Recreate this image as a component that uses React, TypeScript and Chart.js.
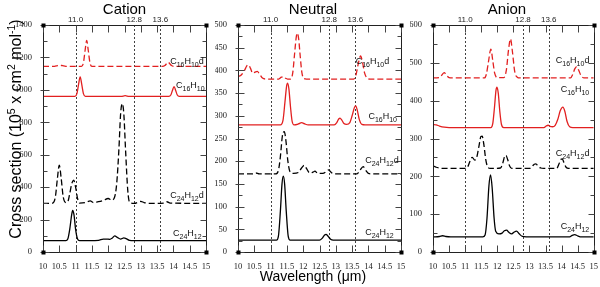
import React, { useEffect, useRef } from 'react';
import { Chart, registerables } from 'chart.js';

Chart.register(...registerables);

type Pt = [number, number];

// ---------- data ----------
const markerWavelengths = [11.0, 12.8, 13.6];
const speciesNames = ['C16H10d', 'C16H10', 'C24H12d', 'C24H12'];

// Cation
const cationC16H10d: Pt[] = [
  [10, 1145], [10.35, 1145], [10.45, 1150], [10.52, 1152], [10.6, 1149], [10.7, 1145],
  [11.18, 1145], [11.24, 1167], [11.29, 1241], [11.34, 1305], [11.39, 1241], [11.44, 1167], [11.5, 1145],
  [13.66, 1145], [13.74, 1150], [13.79, 1161], [13.84, 1170], [13.89, 1161], [13.94, 1150], [14.02, 1145], [15, 1145],
];
const cationC16H10: Pt[] = [
  [10, 960], [10.98, 960], [11.04, 977], [11.09, 1032], [11.14, 1080], [11.19, 1032], [11.24, 977], [11.3, 960],
  [12.4, 960], [12.52, 964], [12.64, 960],
  [13.86, 960], [13.92, 968], [13.97, 996], [14.02, 1020], [14.07, 996], [14.12, 968], [14.18, 960], [15, 960],
];
const cationC24H12d: Pt[] = [
  [10, 300], [10.3, 302], [10.38, 340], [10.44, 450], [10.5, 535], [10.56, 450], [10.62, 340], [10.7, 305],
  [10.76, 310], [10.82, 360], [10.88, 420], [10.94, 443], [11.0, 400], [11.06, 330], [11.12, 302],
  [11.3, 305], [11.45, 315], [11.55, 305], [11.7, 310], [11.85, 318], [12.0, 330], [12.1, 320], [12.18, 330],
  [12.26, 420], [12.33, 640], [12.38, 850], [12.43, 915], [12.48, 850], [12.53, 640], [12.6, 380], [12.66, 305],
  [12.8, 300], [13.0, 312], [13.1, 305], [13.3, 300], [13.7, 302], [13.8, 310], [13.9, 302], [15, 300],
];
const cationC24H12: Pt[] = [
  [10, 70], [10.7, 70], [10.76, 80], [10.82, 140], [10.88, 230], [10.91, 256], [10.95, 230], [11.0, 140],
  [11.06, 80], [11.12, 70], [11.7, 72], [11.85, 80], [11.95, 80], [12.05, 78], [12.12, 85], [12.2, 100],
  [12.28, 90], [12.38, 80], [12.48, 87], [12.55, 82], [12.65, 72], [12.8, 70], [15, 70],
];
const cationLabelX = [13.9, 14.08, 13.9, 13.99];
const cationLabelY = [1160, 1012, 333, 99];

// Neutral
const neutralC16H10d: Pt[] = [
  [10, 386], [10.1, 390], [10.2, 400], [10.27, 410], [10.32, 412], [10.38, 405], [10.45, 394], [10.52, 396],
  [10.59, 398], [10.66, 392], [10.75, 383], [10.85, 381], [11.25, 381], [11.33, 385], [11.39, 386],
  [11.45, 383], [11.52, 381], [11.62, 381], [11.68, 395], [11.74, 440], [11.79, 475], [11.82, 482],
  [11.86, 470], [11.91, 430], [11.96, 395], [12.02, 382], [12.1, 381], [13.55, 381], [13.62, 390],
  [13.69, 415], [13.76, 432], [13.82, 418], [13.88, 395], [13.96, 383], [14.05, 381], [15, 381],
];
const neutralC16H10: Pt[] = [
  [10, 280], [11.3, 280], [11.38, 290], [11.44, 330], [11.49, 365], [11.52, 372], [11.56, 360], [11.61, 320],
  [11.66, 288], [11.72, 280], [11.85, 282], [11.95, 285], [12.05, 282], [12.15, 280], [12.95, 280],
  [13.03, 285], [13.09, 293], [13.13, 295], [13.18, 291], [13.25, 283], [13.33, 281], [13.43, 285],
  [13.5, 300], [13.57, 318], [13.61, 322], [13.66, 312], [13.72, 292], [13.8, 281], [13.9, 280], [15, 280],
];
const neutralC24H12d: Pt[] = [
  [10, 172], [10.45, 172], [10.55, 174], [10.65, 172], [11.15, 172], [11.24, 180], [11.3, 210], [11.36, 255],
  [11.42, 265], [11.47, 245], [11.53, 200], [11.6, 176], [11.7, 173], [11.85, 175], [11.95, 185],
  [12.03, 191], [12.1, 184], [12.2, 174], [12.3, 176], [12.36, 178], [12.45, 173], [12.6, 173],
  [12.72, 178], [12.78, 181], [12.85, 176], [12.95, 172], [13.65, 172], [13.74, 180], [13.84, 188],
  [13.92, 180], [14.0, 173], [14.1, 172], [15, 172],
];
const neutralC24H12: Pt[] = [
  [10, 26], [11.18, 26], [11.24, 35], [11.3, 90], [11.35, 150], [11.39, 167], [11.43, 150], [11.48, 90],
  [11.54, 35], [11.6, 26], [12.5, 26], [12.58, 30], [12.65, 37], [12.7, 39], [12.76, 35], [12.84, 28],
  [12.92, 26], [15, 26],
];
const neutralLabelX = [13.61, 14.0, 13.9, 13.9];
const neutralLabelY = [414, 293, 195, 38];

// Anion
const anionC16H10d: Pt[] = [
  [10, 460], [10.2, 461], [10.27, 467], [10.35, 474], [10.42, 467], [10.5, 461], [10.6, 460], [11.6, 460],
  [11.66, 470], [11.72, 500], [11.8, 536], [11.86, 505], [11.92, 472], [12.0, 461], [12.2, 461],
  [12.28, 480], [12.35, 535], [12.41, 563], [12.47, 530], [12.54, 478], [12.62, 462], [12.7, 460],
  [14.28, 460], [14.35, 470], [14.41, 484], [14.47, 490], [14.53, 481], [14.6, 467], [14.7, 460], [15, 460],
];
const anionC16H10: Pt[] = [
  [10, 337], [10.1, 336], [10.2, 333], [10.35, 330], [10.5, 329], [11.8, 329], [11.86, 340], [11.91, 380],
  [11.96, 428], [11.99, 436], [12.03, 420], [12.08, 370], [12.13, 337], [12.2, 329], [13.45, 329],
  [13.52, 333], [13.58, 335], [13.64, 332], [13.72, 331], [13.8, 335], [13.88, 350], [13.96, 374],
  [14.04, 383], [14.1, 372], [14.17, 345], [14.25, 331], [14.35, 329], [15, 329],
];
const anionC24H12d: Pt[] = [
  [10, 228], [10.1, 224], [10.2, 222], [10.3, 221], [11.0, 221], [11.08, 225], [11.15, 240], [11.22, 250],
  [11.3, 243], [11.36, 250], [11.43, 280], [11.49, 305], [11.53, 306], [11.58, 285], [11.64, 245],
  [11.7, 225], [11.78, 221], [12.1, 222], [12.17, 235], [12.23, 253], [12.27, 255], [12.32, 245],
  [12.38, 228], [12.45, 221], [13.0, 221], [13.08, 226], [13.15, 232], [13.2, 233], [13.27, 227],
  [13.35, 222], [13.45, 221], [13.85, 221], [13.92, 233], [13.98, 245], [14.02, 246], [14.07, 237],
  [14.14, 224], [14.22, 221], [15, 221],
];
const anionC24H12: Pt[] = [
  [10, 40], [10.2, 41], [10.3, 43], [10.4, 41], [10.55, 40], [11.55, 40], [11.62, 45], [11.68, 90],
  [11.74, 175], [11.79, 204], [11.84, 170], [11.9, 90], [11.95, 55], [12.05, 48], [12.15, 50], [12.22, 56],
  [12.29, 58], [12.36, 52], [12.45, 48], [12.53, 53], [12.6, 55], [12.68, 48], [12.78, 41], [12.9, 40],
  [14.25, 40], [14.33, 44], [14.41, 46], [14.49, 43], [14.58, 40], [15, 40],
];
const anionLabelX = [13.82, 13.97, 13.82, 13.97];
const anionLabelY = [499, 424, 255, 62];

// ---------- styles / layout ----------
const RED = 'rgb(226,32,32)';
const BLACK = '#000000';
const DASH = [6, 3];
const SANS = '"Liberation Sans", Arial, Helvetica, sans-serif';
const SERIF = '"Liberation Serif", "Times New Roman", serif';
const H = 287;

type PanelCfg = {
  title: string;
  titleX: number;
  left: number;
  width: number;
  yAxisW: number;
  padRight: number;
  yMax: number;
  yStep: number;
  series: Pt[][];
  labelX: number[];
  labelY: number[];
  yTitle?: boolean;
  xTitle?: boolean;
};

const panels: PanelCfg[] = [
  {
    title: 'Cation', titleX: 124.5, left: 0, width: 215, yAxisW: 43, padRight: 9,
    yMax: 1400, yStep: 200,
    series: [cationC16H10d, cationC16H10, cationC24H12d, cationC24H12],
    labelX: cationLabelX, labelY: cationLabelY, yTitle: true,
  },
  {
    title: 'Neutral', titleX: 98, left: 215, width: 195, yAxisW: 23, padRight: 9,
    yMax: 500, yStep: 50,
    series: [neutralC16H10d, neutralC16H10, neutralC24H12d, neutralC24H12],
    labelX: neutralLabelX, labelY: neutralLabelY, xTitle: true,
  },
  {
    title: 'Anion', titleX: 97, left: 410, width: 190, yAxisW: 23, padRight: 6,
    yMax: 600, yStep: 100,
    series: [anionC16H10d, anionC16H10, anionC24H12d, anionC24H12],
    labelX: anionLabelX, labelY: anionLabelY,
  },
];

const seriesColors = [RED, RED, BLACK, BLACK];
const seriesDashed = [true, false, true, false];

type Part = { t: string; mode: 'n' | 'sup' | 'sub' };

function drawRich(
  ctx: CanvasRenderingContext2D, parts: Part[], x: number, y: number,
  size: number, small: number, shift: number, align: 'left' | 'center',
) {
  const fontOf = (p: Part) => `${p.mode === 'n' ? size : small}px ${SANS}`;
  let total = 0;
  const widths = parts.map((p) => {
    ctx.font = fontOf(p);
    const w = ctx.measureText(p.t).width;
    total += w;
    return w;
  });
  let cx = align === 'center' ? x - total / 2 : x;
  ctx.textAlign = 'left';
  ctx.textBaseline = 'alphabetic';
  parts.forEach((p, i) => {
    ctx.font = fontOf(p);
    const dy = p.mode === 'sup' ? -shift : p.mode === 'sub' ? shift : 0;
    ctx.fillText(p.t, cx, y + dy);
    cx += widths[i];
  });
}

function formulaParts(name: string): Part[] {
  return name
    .split(/(\d+)/)
    .filter((s) => s.length > 0)
    .map((s) => ({ t: s, mode: /^\d+$/.test(s) ? 'sub' : 'n' }));
}

function makeDecor(panel: PanelCfg) {
  return {
    id: 'decor',
    beforeDatasetsDraw(chart: any) {
      const ctx: CanvasRenderingContext2D = chart.ctx;
      const { top, bottom } = chart.chartArea;
      const xs = chart.scales.x;
      ctx.save();
      ctx.strokeStyle = '#111';
      ctx.lineWidth = 0.8;
      ctx.setLineDash([2, 2]);
      markerWavelengths.forEach((v) => {
        const px = Math.round(xs.getPixelForValue(v)) + 0.5;
        ctx.beginPath();
        ctx.moveTo(px, top);
        ctx.lineTo(px, bottom);
        ctx.stroke();
      });
      ctx.restore();
    },
    afterDraw(chart: any) {
      const ctx: CanvasRenderingContext2D = chart.ctx;
      const { left, right, top, bottom } = chart.chartArea;
      const xs = chart.scales.x;
      const ys = chart.scales.y;
      ctx.save();
      // frame
      ctx.strokeStyle = '#222';
      ctx.lineWidth = 1;
      ctx.setLineDash([]);
      const L = Math.round(left) + 0.5, R = Math.round(right) + 0.5;
      const T = Math.round(top) + 0.5, B = Math.round(bottom) + 0.5;
      ctx.strokeRect(L, T, R - L, B - T);
      // ticks
      ctx.strokeStyle = '#444';
      const seg = (x1: number, y1: number, x2: number, y2: number) => {
        ctx.beginPath(); ctx.moveTo(x1, y1); ctx.lineTo(x2, y2); ctx.stroke();
      };
      xs.ticks.forEach((t: any) => {
        const px = Math.round(xs.getPixelForValue(t.value)) + 0.5;
        seg(px, T, px, T + 7);
        seg(px, B, px, B - 7);
      });
      const yt = ys.ticks.map((t: any) => t.value);
      yt.forEach((v: number, i: number) => {
        const py = Math.round(ys.getPixelForValue(v)) + 0.5;
        seg(L, py, L + 6, py);
        seg(R, py, R - 6, py);
        seg(L - 3, py, L, py);
        if (i < yt.length - 1) {
          const pm = Math.round(ys.getPixelForValue((v + yt[i + 1]) / 2)) + 0.5;
          seg(L, pm, L + 4, pm);
          seg(R, pm, R - 4, pm);
        }
      });
      // corner squares
      ctx.fillStyle = '#000';
      [[L, T], [R, T], [L, B], [R, B]].forEach(([cx, cy]) => ctx.fillRect(cx - 2, cy - 2, 4, 4));
      // top marker labels
      ctx.fillStyle = '#222';
      ctx.font = `8px ${SANS}`;
      ctx.textAlign = 'center';
      ctx.textBaseline = 'alphabetic';
      markerWavelengths.forEach((v) => {
        ctx.fillText(v.toFixed(1), xs.getPixelForValue(v), 22);
      });
      // species labels
      ctx.fillStyle = '#111';
      speciesNames.forEach((name, i) => {
        const px = xs.getPixelForValue(panel.labelX[i]);
        const py = ys.getPixelForValue(panel.labelY[i]);
        drawRich(ctx, formulaParts(name), px, py, 9, 7, 3, 'left');
      });
      // panel title
      ctx.fillStyle = '#000';
      ctx.font = `15px ${SANS}`;
      ctx.textAlign = 'center';
      ctx.textBaseline = 'alphabetic';
      ctx.fillText(panel.title, panel.titleX, 13.5);
      if (panel.xTitle) {
        ctx.font = `14px ${SANS}`;
        ctx.fillText('Wavelength (\u03bcm)', panel.titleX, 281);
      }
      if (panel.yTitle) {
        ctx.translate(21, 129);
        ctx.rotate(-Math.PI / 2);
        drawRich(
          ctx,
          [
            { t: 'Cross section (10', mode: 'n' },
            { t: '5', mode: 'sup' },
            { t: ' x cm', mode: 'n' },
            { t: '2', mode: 'sup' },
            { t: ' mol', mode: 'n' },
            { t: '-1', mode: 'sup' },
            { t: ')', mode: 'n' },
          ],
          0, 0, 16, 10.5, 6, 'center',
        );
      }
      ctx.restore();
    },
  };
}

function Panel({ panel }: { panel: PanelCfg }) {
  const ref = useRef<HTMLCanvasElement | null>(null);
  useEffect(() => {
    const canvas = ref.current;
    if (!canvas) return;
    const tickFont = { family: SERIF, size: 8.5 };
    const chart = new Chart(canvas, {
      type: 'line',
      data: {
        datasets: panel.series.map((s, i) => ({
          label: speciesNames[i],
          data: s.map(([x, y]) => ({ x, y })),
          borderColor: seriesColors[i],
          borderWidth: 1.3,
          borderDash: seriesDashed[i] ? DASH : [],
          pointRadius: 0,
          fill: false,
          cubicInterpolationMode: 'monotone',
        })),
      },
      options: {
        responsive: false,
        animation: false,
        devicePixelRatio: 1,
        events: [],
        layout: { padding: { left: 0, right: panel.padRight, top: 25, bottom: 0 } },
        plugins: { legend: { display: false }, tooltip: { enabled: false }, title: { display: false } },
        scales: {
          x: {
            type: 'linear',
            position: 'bottom',
            min: 10,
            max: 15,
            grid: { display: false },
            border: { display: false },
            ticks: {
              stepSize: 0.5, autoSkip: false, maxRotation: 0, font: tickFont, color: '#222', padding: 2,
              callback: (v: any) => String(Number(v)),
            },
            afterFit: (s: any) => { s.height = H - 252; },
          },
          y: {
            type: 'linear',
            min: 0,
            max: panel.yMax,
            grid: { display: false },
            border: { display: false },
            ticks: { stepSize: panel.yStep, font: tickFont, color: '#222', padding: 3, callback: (v: any) => String(v) },
            afterFit: (s: any) => { s.width = panel.yAxisW; },
          },
        },
      },
      plugins: [makeDecor(panel)],
    } as any);
    return () => chart.destroy();
  }, [panel]);
  return (
    <canvas
      ref={ref}
      width={panel.width}
      height={H}
      style={{ position: 'absolute', left: panel.left, top: 0, width: panel.width, height: H }}
    />
  );
}

export default function App() {
  useEffect(() => {
    document.body.style.margin = '0';
  }, []);
  return (
    <div style={{ position: 'relative', width: 600, height: H, background: '#fff', overflow: 'hidden' }}>
      {panels.map((p) => (
        <Panel key={p.title} panel={p} />
      ))}
    </div>
  );
}
